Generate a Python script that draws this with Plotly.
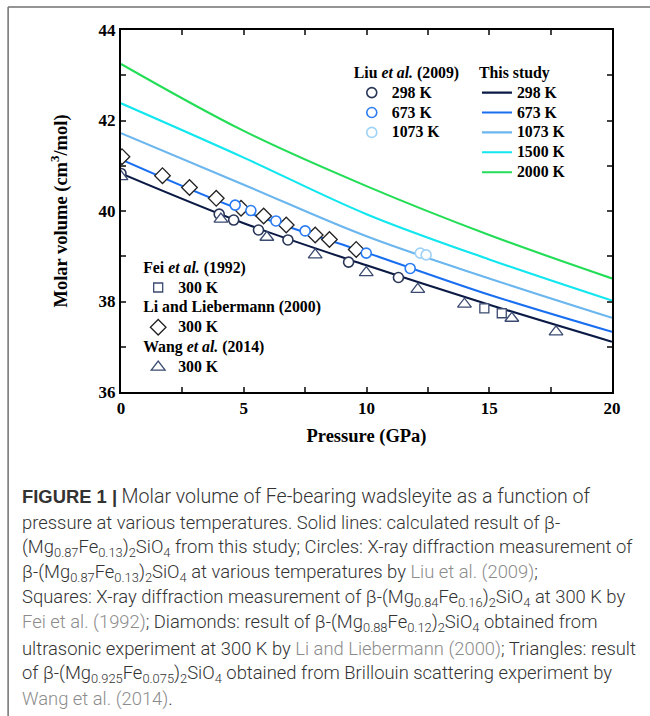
import plotly.graph_objects as go

# ---------------- data ----------------
P_calc = [0, 5, 10, 15, 20]
V_298 = [40.83, 39.73, 38.80, 37.93, 37.11]
V_673 = [41.14, 40.00, 39.08, 38.15, 37.33]
V_1073 = [41.72, 40.58, 39.44, 38.51, 37.64]
V_1500 = [42.38, 41.18, 39.93, 38.93, 38.02]
V_2000 = [43.25, 41.77, 40.55, 39.47, 38.51]

liu298_P = [0.0, 4.0, 4.59, 5.6, 6.8, 9.27, 11.3]
liu298_V = [40.83, 39.93, 39.80, 39.58, 39.36, 38.87, 38.53]
liu673_P = [4.65, 5.29, 6.31, 7.5, 9.99, 11.78]
liu673_V = [40.13, 40.01, 39.78, 39.56, 39.07, 38.73]
liu1073_P = [12.19, 12.43]
liu1073_V = [39.07, 39.03]

fei_P = [14.8, 15.51]
fei_V = [37.85, 37.74]

li_P = [0.04, 1.69, 2.79, 3.88, 4.89, 5.81, 6.73, 7.91, 8.49, 9.58]
li_V = [41.20, 40.78, 40.52, 40.28, 40.06, 39.89, 39.69, 39.47, 39.37, 39.15]

wang_P = [0.0, 4.07, 5.94, 7.91, 9.99, 12.09, 13.99, 15.92, 17.72]
wang_V = [40.76, 39.82, 39.42, 39.03, 38.64, 38.27, 37.94, 37.63, 37.33]

x_ticks = [0, 5, 10, 15, 20]
y_ticks = [36, 38, 40, 42, 44]

caption_lines = [
    "<span style='font-family:Liberation Sans;font-weight:bold'>FIGURE 1 |</span> "
    "<span style='font-size:19.6px'>Molar volume of Fe-bearing wadsleyite as a function of</span>",
    "pressure at various temperatures. Solid lines: calculated result of β-",
    "(Mg<sub>0.87</sub>Fe<sub>0.13</sub>)<sub>2</sub>SiO<sub>4</sub> from this study; Circles: X-ray diffraction measurement of",
    "β-(Mg<sub>0.87</sub>Fe<sub>0.13</sub>)<sub>2</sub>SiO<sub>4</sub> at various temperatures by <span style='color:#8c8c8c'>Liu et al. (2009)</span>;",
    "Squares: X-ray diffraction measurement of β-(Mg<sub>0.84</sub>Fe<sub>0.16</sub>)<sub>2</sub>SiO<sub>4</sub> at 300 K by",
    "<span style='color:#8c8c8c'>Fei et al. (1992)</span>; Diamonds: result of β-(Mg<sub>0.88</sub>Fe<sub>0.12</sub>)<sub>2</sub>SiO<sub>4</sub> obtained from",
    "ultrasonic experiment at 300 K by <span style='color:#8c8c8c'>Li and Liebermann (2000)</span>; Triangles: result",
    "of β-(Mg<sub>0.925</sub>Fe<sub>0.075</sub>)<sub>2</sub>SiO<sub>4</sub> obtained from Brillouin scattering experiment by",
    "<span style='color:#8c8c8c'>Wang et al. (2014)</span>.",
]

# ---------------- style ----------------
SERIF = "Liberation Serif"
C298, C673, C1073, C1500, C2000 = "#0b1a45", "#1a6ff0", "#6bb6ee", "#12e6ee", "#22dd55"
CIRC298, CIRC673, CIRC1073 = "#2a3658", "#2a7cf2", "#9fd2f6"
SYM = "#3b4a70"


def lbl(t):
    return f"<span style='font-size:15.8px'>{t}</span>"


fig = go.Figure()

# calculated lines (legend2)
for name, V, c in [("298 K", V_298, C298), ("673 K", V_673, C673), ("1073 K", V_1073, C1073),
                   ("1500 K", V_1500, C1500), ("2000 K", V_2000, C2000)]:
    fig.add_trace(go.Scatter(x=P_calc, y=V, mode="lines", line=dict(color=c, width=2.1, shape="spline"),
                             name=lbl(name), legend="legend2"))

# Li diamonds (legend3)
fig.add_trace(go.Scatter(x=li_P, y=li_V, mode="markers", name=lbl("300 K"), legend="legend3",
                         legendgroup="li", legendrank=2,
                         legendgrouptitle=dict(text=lbl("Li and Liebermann (2000)")),
                         marker=dict(symbol="diamond", size=12, color="white", line=dict(color="#222222", width=1.3))))
# Liu circles (legend)
for name, Px, Vy, c in [("298 K", liu298_P, liu298_V, CIRC298), ("673 K", liu673_P, liu673_V, CIRC673),
                        ("1073 K", liu1073_P, liu1073_V, CIRC1073)]:
    fig.add_trace(go.Scatter(x=Px, y=Vy, mode="markers", name=lbl(name), legend="legend",
                             marker=dict(symbol="circle", size=10, color="white", line=dict(color=c, width=1.6))))
# Fei squares
fig.add_trace(go.Scatter(x=fei_P, y=fei_V, mode="markers", name=lbl("300 K"), legend="legend3",
                         legendgroup="fei", legendrank=1,
                         legendgrouptitle=dict(text=lbl("Fei <i>et al.</i> (1992)")),
                         marker=dict(symbol="square", size=9, color="white", line=dict(color=SYM, width=1.3))))
# Wang triangles
fig.add_trace(go.Scatter(x=wang_P, y=wang_V, mode="markers", name=lbl("300 K"), legend="legend3",
                         legendgroup="wang", legendrank=3,
                         legendgrouptitle=dict(text=lbl("Wang <i>et al.</i> (2014)")),
                         marker=dict(symbol="triangle-up", size=12, color="white", line=dict(color=SYM, width=1.3))))

for i, t in enumerate(caption_lines):
    fig.add_annotation(text=t, xref="paper", yref="paper", x=(20 - 121) / 491.5,
                       y=(392 - (497 + 25.3 * i)) / 362, xanchor="left", yanchor="middle",
                       showarrow=False, align="left",
                       font=dict(family="Roboto", size=18.4, color="#333333", weight=300))

# page frame
fig.add_shape(type="line", xref="paper", yref="paper", x0=(8 - 121) / 491.5, x1=(660 - 121) / 491.5,
              y0=(392 - 7) / 362, y1=(392 - 7) / 362, line=dict(color="#707070", width=1.5))
fig.add_shape(type="line", xref="paper", yref="paper", x0=(8 - 121) / 491.5, x1=(8 - 121) / 491.5,
              y0=(392 - 7) / 362, y1=(392 - 730) / 362, line=dict(color="#707070", width=1.5))

legfont = dict(family=SERIF, size=13, color="black", weight="bold")
fig.update_layout(
    width=650, height=716,
    margin=dict(l=121, r=37.5, t=30, b=324),
    paper_bgcolor="white", plot_bgcolor="white",
    font=dict(family=SERIF, color="black"),
    legend=dict(x=0.47, y=0.915, xanchor="left", yanchor="top", bgcolor="rgba(0,0,0,0)",
                font=legfont, title=dict(text=lbl("Liu <i>et al.</i> (2009)"), font=legfont, side="top"),
                itemwidth=30, tracegroupgap=0),
    legend2=dict(x=0.725, y=0.915, xanchor="left", yanchor="top", bgcolor="rgba(0,0,0,0)",
                 font=legfont, title=dict(text=lbl("This study"), font=legfont, side="top"),
                 itemwidth=30, tracegroupgap=0),
    legend3=dict(x=0.035, y=0.385, xanchor="left", yanchor="top", bgcolor="rgba(0,0,0,0)",
                 font=legfont, grouptitlefont=legfont, itemwidth=30, tracegroupgap=0),
    xaxis=dict(range=[0, 20], tickvals=x_ticks, ticks="inside", ticklen=5, tickwidth=1.5,
               showline=True, linewidth=2, linecolor="black", mirror="allticks", showgrid=False,
               zeroline=False, tickfont=dict(family=SERIF, size=17, weight="bold"),
               minor=dict(dtick=2.5, ticks="inside", ticklen=5, tickwidth=1.5, showgrid=False),
               title=dict(text="<b>Pressure (GPa)</b>", font=dict(family=SERIF, size=18.5), standoff=12)),
    yaxis=dict(range=[36, 44], tickvals=y_ticks, ticks="inside", ticklen=5, tickwidth=1.5,
               showline=True, linewidth=2, linecolor="black", mirror="allticks", showgrid=False,
               zeroline=False, tickfont=dict(family=SERIF, size=17, weight="bold"),
               minor=dict(dtick=1, ticks="inside", ticklen=5, tickwidth=1.5, showgrid=False),
               title=dict(text="<b>Molar volume (cm<sup>3</sup>/mol)</b>", font=dict(family=SERIF, size=18.5), standoff=26)),
)

fig.write_html("out.html")
